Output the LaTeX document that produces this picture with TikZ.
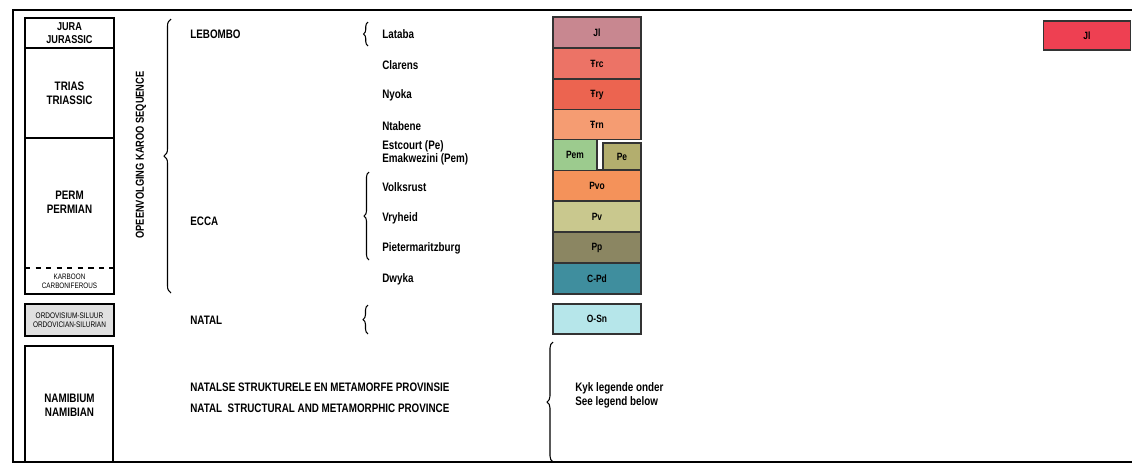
\documentclass[tikz,border=0pt]{standalone}
\usepackage{fontspec}
\setmainfont[FakeStretch=0.8]{Liberation Sans}
\usetikzlibrary{decorations.pathreplacing}
\definecolor{cJl}{HTML}{C88790}
\definecolor{cTrc}{HTML}{EC7366}
\definecolor{cTry}{HTML}{EC6450}
\definecolor{cTrn}{HTML}{F59C72}
\definecolor{cPem}{HTML}{9CCB8E}
\definecolor{cPe}{HTML}{B3AE6E}
\definecolor{cPvo}{HTML}{F4925A}
\definecolor{cPv}{HTML}{C9C88E}
\definecolor{cPp}{HTML}{8B8662}
\definecolor{cCPd}{HTML}{3F8E9E}
\definecolor{cOSn}{HTML}{B6E6EA}
\definecolor{cJlr}{HTML}{EE4052}
\begin{document}
\begin{tikzpicture}[x=0.02cm,y=-0.02cm,font=\fontsize{7}{8}\selectfont\bfseries,
  era/.style={align=center,inner sep=0pt},
  unit/.style={draw=black!80,line width=0.6pt,minimum width=1.76cm,inner sep=0pt,font=\fontsize{6}{7}\selectfont\bfseries},
  fm/.style={anchor=west,inner sep=0pt},
  grp/.style={anchor=west,inner sep=0pt},
  curly/.style={decorate,decoration={brace,amplitude=#1},line width=0.6pt}]
\useasboundingbox (0,0) rectangle (1132,464);
% frame
\draw[line width=1.4pt] (1134,10) -- (13,10) -- (13,462) -- (1134,462);
% time scale
\draw[line width=0.7pt] (25,18) rectangle (114,48);
\draw[line width=0.7pt] (25,48) rectangle (114,138);
\draw[line width=0.7pt] (25,138) rectangle (114,294);
\draw[dashed,line width=0.7pt] (25,268) -- (114,268);
\draw[line width=0.7pt,fill=black!12] (25,304) rectangle (114,336);
\draw[line width=0.7pt] (25,462) -- (25,346) -- (113,346) -- (113,462);
\node[era,font=\fontsize{6.5}{7.5}\selectfont\bfseries] (jura) at (69.5,33) {JURA\\JURASSIC};
\node[era] (trias) at (69.5,93) {TRIAS\\TRIASSIC};
\node[era] (perm) at (69.5,202) {PERM\\PERMIAN};
\node[era,font=\fontsize{4.5}{5}\selectfont] (carbon) at (69.5,281) {KARBOON\\CARBONIFEROUS};
\node[era,font=\fontsize{4.6}{5.4}\selectfont] (ordo) at (69.5,320) {ORDOVISIUM-SILUUR\\ORDOVICIAN-SILURIAN};
\node[era] (namib) at (69.5,405) {NAMIBIUM\\NAMIBIAN};
% sequence
\node[rotate=90,inner sep=0pt,font=\fontsize{6.6}{7}\selectfont\bfseries] (karoo) at (141,155) {OPEENVOLGING KAROO SEQUENCE};
\coordinate (kb) at (171,293);
\coordinate (kt) at (171,19);
\draw[curly=0.14cm] (kb) -- (kt);
\node[grp] (lebombo) at (190,34) {LEBOMBO};
\node[grp] (ecca) at (190,221) {ECCA};
\node[grp] (natal) at (190,320) {NATAL};
\node[grp,align=left] (nsmp) at (190,398) {NATALSE STRUKTURELE EN METAMORFE PROVINSIE\\[4pt]NATAL\ \ STRUCTURAL AND METAMORPHIC PROVINCE};
% formations
\node[fm] (lataba) at (382,34) {Lataba};
\node[fm] (clarens) at (382,65) {Clarens};
\node[fm] (nyoka) at (382,95) {Nyoka};
\node[fm] (ntabene) at (382,126) {Ntabene};
\node[fm] (estcourt) at (382,146) {Estcourt (Pe)};
\node[fm] (emak) at (382,159) {Emakwezini (Pem)};
\node[fm] (volksrust) at (382,187) {Volksrust};
\node[fm] (vryheid) at (382,218) {Vryheid};
\node[fm] (pmb) at (382,248) {Pietermaritzburg};
\node[fm] (dwyka) at (382,279) {Dwyka};
\draw[curly=0.09cm] (368,46) -- (368,22);
\draw[curly=0.1cm] (369,260) -- (369,172);
\draw[curly=0.1cm] (368,334) -- (368,305);
% units
\foreach \y/\h/\c/\t/\n in {32.5/31/cJl/Jl/jl, 63.5/31/cTrc/Ŧrc/trc, 94.5/30/cTry/Ŧry/try, 124.5/30/cTrn/Ŧrn/trn,
  185.5/31/cPvo/Pvo/pvo, 216.5/31/cPv/Pv/pv, 247.5/31/cPp/Pp/pp, 278.5/31/cCPd/C-Pd/cpd, 319/30/cOSn/O-Sn/osn}
  \node[unit,fill=\c,minimum height=\h*0.02cm] (\n) at (597,\y) {\t};
\node[unit,fill=cPem,minimum width=0.88cm,minimum height=0.62cm] (pem) at (575,155) {Pem};
\node[unit,fill=cPe,line width=1pt,minimum width=0.76cm,minimum height=0.54cm] (pe) at (622,156.5) {Pe};
% legend
\draw[curly=0.12cm] (553,462) -- (553,342);
\node[fm,align=left] (kyk) at (575,395) {Kyk legende onder\\See legend below};
\node[unit,fill=cJlr,minimum width=1.74cm,minimum height=0.58cm] (jlr) at (1087,35.5) {Jl};
\end{tikzpicture}
\end{document}
